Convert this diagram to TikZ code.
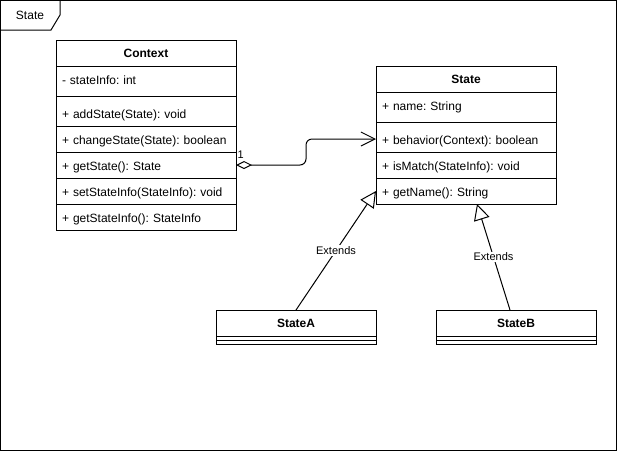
\documentclass[tikz,border=0pt]{standalone}
\usepackage{fontspec}
\setmainfont{Liberation Sans}
\usetikzlibrary{positioning,arrows.meta}
\frenchspacing

\tikzset{
  every node/.style={font=\fontsize{12pt}{14pt}\selectfont},
  classhead/.style={draw, font=\fontsize{12pt}{14pt}\selectfont\bfseries, minimum height=26pt, inner sep=0pt, outer sep=0pt},
  member/.style={minimum height=26pt, text width=168pt, text height=11pt, text depth=0.5pt, inner xsep=6pt, inner ysep=0pt, outer sep=0pt, align=left},
  extends/.style={-{Triangle[open,length=16pt,width=16pt]}},
  aggr/.style={{Diamond[open,length=16pt,width=8pt]}-{Straight Barb[length=14pt,width=14pt]}, rounded corners=6pt},
  edgelabel/.style={fill=white, font=\fontsize{11pt}{13pt}\selectfont, inner sep=1pt}
}

\begin{document}
\begin{tikzpicture}[x=1pt, y=-1pt, line width=1pt]
    \useasboundingbox (0,0) rectangle (617,451);
    % frame
    \draw (0.5,0.5) rectangle (616.5,450.5);
    \draw (0.5,30) -- (51,30) -- (60,15) -- (60,0.5);
    \node (frametitle) at (30,15.5) {State};

    % Context
    \node [classhead, minimum width=180pt, anchor=north west] (ctx) at (56,40) {Context};
    \node [member, below=0pt of ctx] (ctxinfo) {- stateInfo: int};
    \node [member, below=8pt of ctxinfo] (ctxadd) {+ addState(State): void};
    \node [member, below=0pt of ctxadd] (ctxchange) {+ changeState(State): boolean};
    \node [member, below=0pt of ctxchange] (ctxget) {+ getState(): State};
    \node [member, below=0pt of ctxget] (ctxset) {+ setStateInfo(StateInfo): void};
    \node [member, below=0pt of ctxset] (ctxgetinfo) {+ getStateInfo(): StateInfo};
    \draw (ctx.north west) rectangle (ctxgetinfo.south east);
    \draw ([yshift=-4pt]ctxinfo.south west) -- ([yshift=-4pt]ctxinfo.south east);
    \foreach \row in {ctxadd,ctxchange,ctxget,ctxset}
        \draw (\row.south west) -- (\row.south east);

    % State
    \node [classhead, minimum width=180pt, anchor=north west] (st) at (376,66) {State};
    \node [member, below=0pt of st] (stname) {+ name: String};
    \node [member, below=8pt of stname] (stbeh) {+ behavior(Context): boolean};
    \node [member, below=0pt of stbeh] (stmatch) {+ isMatch(StateInfo): void};
    \node [member, below=0pt of stmatch] (stgetname) {+ getName(): String};
    \draw (st.north west) rectangle (stgetname.south east);
    \draw ([yshift=-4pt]stname.south west) -- ([yshift=-4pt]stname.south east);
    \foreach \row in {stbeh,stmatch}
        \draw (\row.south west) -- (\row.south east);

    % StateA, StateB
    \node [classhead, minimum width=160pt, anchor=north west] (sta) at (216,310) {StateA};
    \node [classhead, minimum width=160pt, anchor=north west] (stb) at (436,310) {StateB};
    \foreach \cls in {sta,stb} {
        \draw (\cls.south west) rectangle ++(160,8);
        \draw ([yshift=-4pt]\cls.south west) -- ([yshift=-4pt]\cls.south east);
    }

    % connectors
    \draw [aggr] (ctxget.east) -- ++(70,0) |- (stbeh.west);
    \node [anchor=south west, inner sep=1pt, font=\fontsize{11pt}{13pt}\selectfont] (mult) at ([yshift=5pt]ctxget.east) {1};
    \draw [extends] (sta.north) -- node [edgelabel] {Extends} (stgetname.west);
    \draw [extends] ([xshift=-6pt]stb.north) -- node [edgelabel] {Extends} ([xshift=11pt]stgetname.south);
\end{tikzpicture}
\end{document}
